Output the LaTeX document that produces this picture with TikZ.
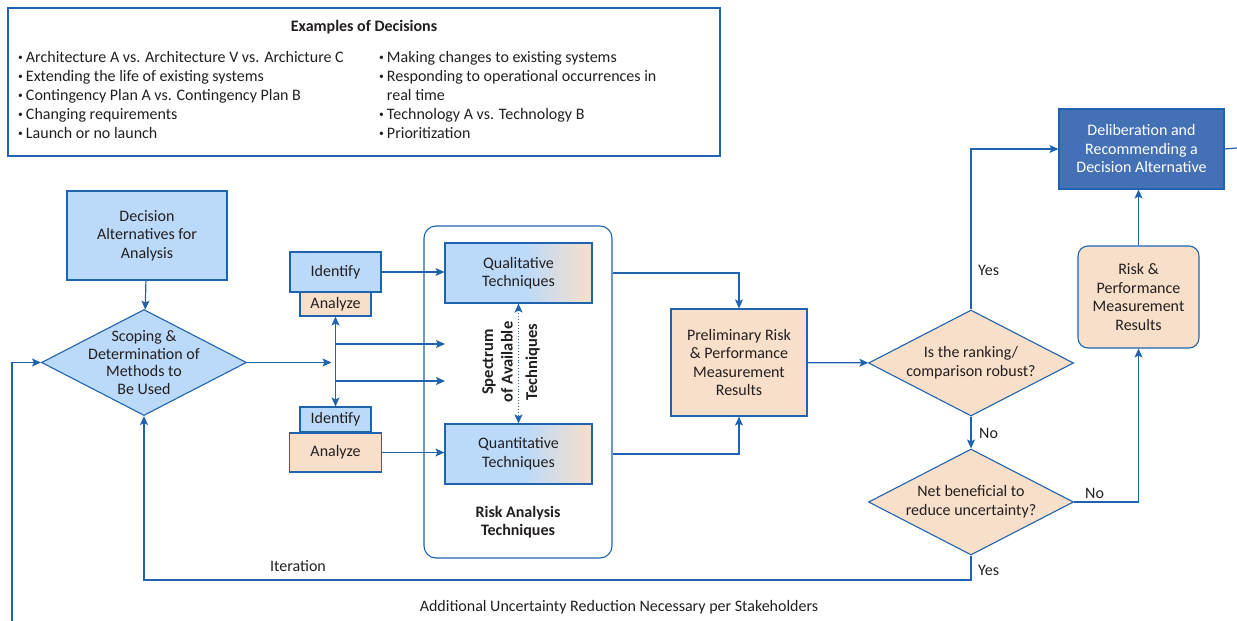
\documentclass[tikz,border=0pt]{standalone}
\usepackage{fontspec}
\setmainfont{Carlito}
\usetikzlibrary{arrows.meta, positioning, shapes.geometric, calc}
\definecolor{flowblue}{HTML}{1F63AE}
\definecolor{boxblue}{HTML}{BBDAFA}
\definecolor{boxpeach}{HTML}{F7DFC9}
\definecolor{deepblue}{HTML}{4470B5}
\definecolor{inkgray}{HTML}{231F20}
\newcommand{\diagfont}{\fontsize{16}{18.5}\selectfont}
\newcommand{\dotitem}{\raisebox{0.25ex}{\scalebox{0.6}{•}}\hspace{3pt}}
\pgfdeclarehorizontalshading{techshade}{100bp}{color(0bp)=(boxblue); color(25bp)=(boxblue); color(52bp)=(boxblue); color(75bp)=(boxpeach); color(100bp)=(boxpeach)}

\begin{document}
\begin{tikzpicture}[
    x=1pt, y=-1pt,
    every node/.style={text=inkgray, font=\diagfont},
    block/.style={draw=flowblue, line width=1.1pt, align=center, inner sep=0pt},
    blueblock/.style={block, fill=boxblue},
    peachblock/.style={block, fill=boxpeach},
    techblock/.style={block, shading=techshade, minimum width=147pt, minimum height=60pt},
    decision/.style={diamond, draw=flowblue, line width=1.1pt, inner sep=0pt, minimum width=205pt, minimum height=106pt},
    arrow/.style={-{Stealth[length=9pt, width=8pt, inset=2pt]}, line width=1.2pt, draw=flowblue},
    doublearrow/.style={{Stealth[length=9pt, width=8pt, inset=2pt]}-{Stealth[length=9pt, width=8pt, inset=2pt]}, line width=1.2pt, draw=flowblue},
    link/.style={line width=1.2pt, draw=flowblue},
    tag/.style={anchor=west, inner sep=0pt},
]
\useasboundingbox (0,0) rectangle (1237,621);

% Examples of Decisions
\node[block, minimum width=712pt, minimum height=148pt] (examples) at (364,82) {};
\node[font=\diagfont\bfseries] (extitle) at (364,27) {Examples of Decisions};
\node[tag, anchor=north west, align=left, font=\fontsize{16}{19}\selectfont] (exleft) at (18,51) {%
  \dotitem Architecture A vs. Architecture V vs. Archicture C\\
  \dotitem Extending the life of existing systems\\
  \dotitem Contingency Plan A vs. Contingency Plan B\\
  \dotitem Changing requirements\\
  \dotitem Launch or no launch};
\node[tag, anchor=north west, align=left, font=\fontsize{16}{19}\selectfont] (exright) at (379,51) {%
  \dotitem Making changes to existing systems\\
  \dotitem Responding to operational occurrences in\\
  \phantom{\dotitem}real time\\
  \dotitem Technology A vs. Technology B\\
  \dotitem Prioritization};

% Scoping
\node[blueblock, minimum width=160pt, minimum height=89pt] (alts) at (147,235.5) {Decision\\Alternatives for\\Analysis};
\node[decision, fill=boxblue] (scope) at (144,362.5) {};
\node[align=center, font=\fontsize{16}{17.5}\selectfont] (scopetxt) at (scope) {Scoping \&\\Determination of\\Methods to\\Be Used};

% Identify / Analyze
\node[blueblock, minimum width=91pt, minimum height=40pt] (identa) at (335.5,272) {Identify};
\node[peachblock, minimum width=71pt, minimum height=24pt] (analyzea) at (335.5,304) {Analyze};
\node[blueblock, minimum width=71pt, minimum height=25pt] (identb) at (335.5,419.5) {Identify};
\node[peachblock, minimum width=92pt, minimum height=39pt] (analyzeb) at (335.5,452.5) {Analyze};
\coordinate (split) at (335.5,362.5);
\coordinate (brancha) at (335.5,344);
\coordinate (branchb) at (335.5,381);
\coordinate (tipa) at (445,344);
\coordinate (tipb) at (445,381);

% Risk Analysis Techniques
\node[draw=flowblue, line width=1.1pt, rounded corners=12pt, minimum width=188pt, minimum height=332pt] (techs) at (518,392) {};
\node[techblock] (qual) at (518.5,273) {Qualitative\\Techniques};
\node[techblock] (quant) at (518.5,454) {Quantitative\\Techniques};
\node[align=center, font=\fontsize{16.5}{19.5}\selectfont\bfseries, rotate=90] (spectrum) at (511,362) {Spectrum\\of Available\\[5pt]Techniques};
\node[align=center, font=\fontsize{16}{18.5}\selectfont\bfseries] (techlabel) at (518,522) {Risk Analysis\\Techniques};

% Results and decisions
\node[peachblock, minimum width=136pt, minimum height=107pt] (prelim) at (739,362.5) {Preliminary Risk\\\& Performance\\Measurement\\Results};
\node[decision, fill=boxpeach] (rank) at (971,363) {};
\node[align=center, font=\fontsize{16}{19}\selectfont] (ranktxt) at (rank) {Is the ranking/\\comparison robust?};
\node[decision, fill=boxpeach] (net) at (971,502) {};
\node[align=center, font=\fontsize{16}{19}\selectfont] (nettxt) at (net) {Net beneficial to\\reduce uncertainty?};
\node[block, fill=deepblue, text=white, minimum width=165pt, minimum height=80pt] (delib) at (1141.5,149) {Deliberation and\\Recommending a\\Decision Alternative};
\node[peachblock, rounded corners=10pt, minimum width=121pt, minimum height=102pt] (riskres) at (1138.5,297) {Risk \&\\Performance\\Measurement\\Results};
\coordinate (iterturn) at (971,580);
\coordinate (loopin) at (12,621);
\coordinate (loopout) at (1237,148);

% Arrows
\draw[arrow] (alts) -- (scope);
\draw[arrow] (loopin) |- (scope.west);
\draw[arrow] (scope.east) -- ([xshift=-4pt]split);
\draw[doublearrow] (analyzea.south) -- (identb.north);
\draw[arrow] (brancha) -- (tipa);
\draw[arrow] (branchb) -- (tipb);
\draw[arrow] (identa.east) -- (identa.east -| qual.west);
\draw[arrow] (analyzeb.east) -- (analyzeb.east -| quant.west);
\draw[doublearrow, line width=0.9pt, dotted, {Stealth[length=9pt, width=8pt, inset=2pt]}-{Stealth[length=9pt, width=8pt, inset=2pt]}] (qual.south) -- (quant.north);
\draw[arrow] (techs.east |- qual) -| (prelim.north);
\draw[arrow] (techs.east |- quant) -| (prelim.south);
\draw[arrow] (prelim) -- (rank);
\draw[arrow] (rank.north) |- (delib.west);
\draw[arrow] (rank) -- (net);
\draw[arrow] (net.east) -| (riskres.south);
\draw[arrow] (riskres.north) -- (riskres.north |- delib.south);
\draw[arrow] (net.south) -- (iterturn) -| (scope.south);
\draw[link] (delib.east) -- (loopout);

% Labels
\node[tag] (yesup) at (978,270) {Yes};
\node[tag] (noup) at (979,433) {No};
\node[tag] (noright) at (1085,493) {No};
\node[tag] (yesdown) at (978,570) {Yes};
\node (iterlabel) at (298,566) {Iteration};
\node (addlabel) at (619,607) {Additional Uncertainty Reduction Necessary per Stakeholders};

\end{tikzpicture}
\end{document}
